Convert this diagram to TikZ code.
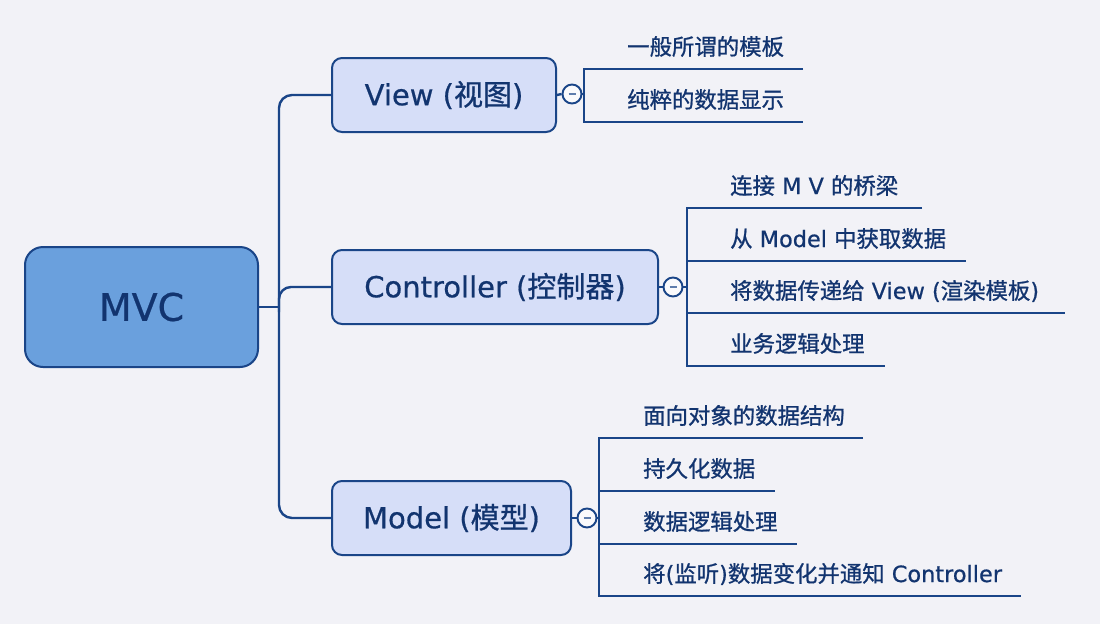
\documentclass[tikz,border=0pt]{standalone}
\usepackage{fontspec}
\setmainfont{DejaVu Sans}[FakeBold=0.6]
\newfontfamily\cjk{Noto Sans CJK SC}[FakeBold=0.9]
\definecolor{bgc}{HTML}{F2F2F7}
\definecolor{navy}{HTML}{1A4588}
\definecolor{txt}{HTML}{12346F}
\definecolor{mvcfill}{HTML}{6AA0DD}
\definecolor{boxfill}{HTML}{D6DEF8}
\tikzset{
  mainbox/.style={draw=navy,line width=2pt,fill=mvcfill,rounded corners=18pt,minimum width=233pt,minimum height=120pt,text=txt,font=\fontsize{38}{44}\selectfont},
  topicbox/.style={draw=navy,line width=2pt,fill=boxfill,rounded corners=10pt,minimum height=74pt,text=txt,font=\fontsize{29}{34}\selectfont,inner sep=0pt},
  link/.style={draw=navy,line width=2.4pt},
  uline/.style={draw=navy,line width=2.6pt},
  toggle/.style={circle,draw=navy,line width=1.9pt,fill=white!60!bgc,minimum size=19pt,inner sep=0pt},
  leaf/.style={anchor=base west,inner sep=0pt,text=txt,font=\fontsize{22.4}{26}\selectfont},
}
\newcommand{\minus}[1]{\draw[navy!70,line width=1.3pt] ([xshift=-3.5pt]#1.center) -- ([xshift=3.5pt]#1.center);}
\begin{document}
\begin{tikzpicture}[x=1pt,y=-1pt]
\fill[bgc] (0,0) rectangle (1100,624);
\useasboundingbox (0,0) rectangle (1100,624);

% main and topic boxes
\node[mainbox] (mvc) at (141.5,307) {MVC};
\node[topicbox,minimum width=224pt] (view) at (444,95) {View ({\cjk 视图})};
\node[topicbox,minimum width=326pt] (ctrl) at (495,287) {Controller ({\cjk 控制器})};
\node[topicbox,minimum width=239pt] (model) at (451.5,518) {Model ({\cjk 模型})};

% trunk
\coordinate (tj) at (279,307);
\draw[link] (mvc.east) -- (tj);
\draw[link,rounded corners=13pt] (view.west) -- (279,95) -- (279,518) -- (model.west);
\draw[link,rounded corners=12pt] (279,312) -- (279,287) -- (ctrl.west);

% toggles
\node[toggle] (tv) at (572,94) {};
\node[toggle] (tc) at (673,287) {};
\node[toggle] (tm) at (587,518) {};
\minus{tv}\minus{tc}\minus{tm}
\draw[link] (view.east) -- (tv.west);
\draw[link] (ctrl.east) -- (tc.west);
\draw[link] (model.east) -- (tm.west);

% ---- View children
\coordinate (v1) at (584,69);  \coordinate (v1e) at (803,69);
\coordinate (v2) at (584,122); \coordinate (v2e) at (803,122);
\draw[link] (tv.east) -- (584,94);
\draw[uline] (v1e) -- (v1) -- (v2) -- (v2e);
\node[leaf] (vl1) at (627,55) {\cjk 一般所谓的模板};
\node[leaf] (vl2) at (627,108) {\cjk 纯粹的数据显示};

% ---- Controller children
\coordinate (c1) at (687,208); \coordinate (c1e) at (922,208);
\coordinate (c2) at (687,261); \coordinate (c2e) at (966,261);
\coordinate (c3) at (687,313); \coordinate (c3e) at (1065,313);
\coordinate (c4) at (687,366); \coordinate (c4e) at (885,366);
\draw[link] (tc.east) -- (687,287);
\draw[uline] (c1e) -- (c1) -- (c4) -- (c4e);
\draw[uline] (c2) -- (c2e);
\draw[uline] (c3) -- (c3e);
\node[leaf] (cl1) at (730,194) {{\cjk 连接} M V {\cjk 的桥梁}};
\node[leaf] (cl2) at (730,247) {{\cjk 从} Model {\cjk 中获取数据}};
\node[leaf] (cl3) at (730,299) {{\cjk 将数据传递给} View ({\cjk 渲染模板})};
\node[leaf] (cl4) at (730,352) {\cjk 业务逻辑处理};

% ---- Model children
\coordinate (m1) at (599,438); \coordinate (m1e) at (863,438);
\coordinate (m2) at (599,491); \coordinate (m2e) at (775,491);
\coordinate (m3) at (599,544); \coordinate (m3e) at (797,544);
\coordinate (m4) at (599,596); \coordinate (m4e) at (1021,596);
\draw[link] (tm.east) -- (599,518);
\draw[uline] (m1e) -- (m1) -- (m4) -- (m4e);
\draw[uline] (m2) -- (m2e);
\draw[uline] (m3) -- (m3e);
\node[leaf] (ml1) at (643,424) {\cjk 面向对象的数据结构};
\node[leaf] (ml2) at (643,477) {\cjk 持久化数据};
\node[leaf] (ml3) at (643,530) {\cjk 数据逻辑处理};
\node[leaf] (ml4) at (643,582) {{\cjk 将}({\cjk 监听}){\cjk 数据变化并通知} Controller};
\end{tikzpicture}
\end{document}
